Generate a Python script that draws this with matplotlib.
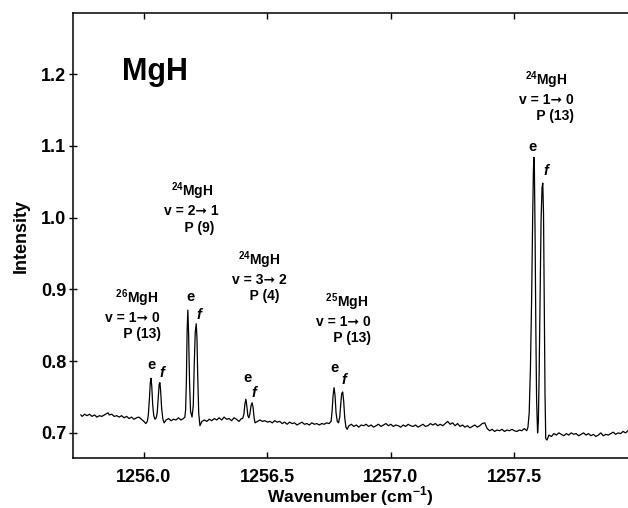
import numpy as np
import matplotlib
matplotlib.use("Agg")
import matplotlib.pyplot as plt
from matplotlib.ticker import FormatStrFormatter

plt.rcParams['font.family'] = ['Liberation Sans', 'DejaVu Sans']
plt.rcParams['mathtext.fontset'] = 'custom'
plt.rcParams['mathtext.rm'] = 'Liberation Sans:bold'
plt.rcParams['mathtext.bf'] = 'Liberation Sans:bold'

# spectrum trace (wavenumber, intensity)
trace = [
    (1255.745, 0.725), (1255.75, 0.723), (1255.76, 0.726), (1255.77, 0.724),
    (1255.78, 0.726), (1255.79, 0.723), (1255.80, 0.725), (1255.81, 0.722),
    (1255.82, 0.724), (1255.83, 0.723), (1255.84, 0.725), (1255.85, 0.727),
    (1255.855, 0.728), (1255.86, 0.725), (1255.87, 0.726), (1255.88, 0.723),
    (1255.89, 0.724), (1255.90, 0.722), (1255.91, 0.724), (1255.92, 0.721),
    (1255.93, 0.723), (1255.94, 0.720), (1255.95, 0.722), (1255.96, 0.719),
    (1255.97, 0.721), (1255.98, 0.722), (1255.99, 0.719), (1256.00, 0.716),
    (1256.008, 0.713), (1256.014, 0.716),
    # 26MgH e / f
    (1256.018, 0.725), (1256.022, 0.745), (1256.026, 0.770), (1256.029, 0.776),
    (1256.032, 0.765), (1256.036, 0.738), (1256.040, 0.724), (1256.045, 0.719),
    (1256.050, 0.721), (1256.054, 0.728), (1256.058, 0.748), (1256.062, 0.768),
    (1256.065, 0.770), (1256.068, 0.758), (1256.072, 0.734), (1256.077, 0.719),
    (1256.082, 0.714), (1256.09, 0.718), (1256.10, 0.720), (1256.11, 0.717),
    (1256.12, 0.719), (1256.13, 0.718), (1256.14, 0.721), (1256.15, 0.718),
    (1256.16, 0.720), (1256.166, 0.722),
    # 24MgH v=2-1 e / f
    (1256.169, 0.732), (1256.172, 0.770), (1256.175, 0.840), (1256.178, 0.871),
    (1256.181, 0.840), (1256.185, 0.770), (1256.189, 0.730), (1256.195, 0.722),
    (1256.200, 0.738), (1256.204, 0.795), (1256.208, 0.840), (1256.212, 0.852),
    (1256.215, 0.832), (1256.218, 0.780), (1256.222, 0.728), (1256.227, 0.710),
    (1256.235, 0.716), (1256.245, 0.718), (1256.255, 0.716), (1256.265, 0.719),
    (1256.275, 0.717), (1256.285, 0.720), (1256.295, 0.718), (1256.305, 0.721),
    (1256.315, 0.718), (1256.325, 0.722), (1256.335, 0.719), (1256.345, 0.720),
    (1256.355, 0.717), (1256.365, 0.721), (1256.375, 0.719), (1256.385, 0.716),
    (1256.395, 0.720),
    # 24MgH v=3-2 e / f
    (1256.400, 0.720), (1256.405, 0.726), (1256.409, 0.740), (1256.413, 0.747),
    (1256.417, 0.737), (1256.421, 0.724), (1256.425, 0.721), (1256.429, 0.726),
    (1256.434, 0.738), (1256.438, 0.742), (1256.442, 0.736), (1256.446, 0.722),
    (1256.450, 0.714),
    (1256.46, 0.716), (1256.47, 0.718), (1256.48, 0.716), (1256.49, 0.717),
    (1256.50, 0.715), (1256.51, 0.716), (1256.52, 0.714), (1256.53, 0.717),
    (1256.54, 0.715), (1256.55, 0.716), (1256.56, 0.713), (1256.57, 0.715),
    (1256.58, 0.712), (1256.59, 0.715), (1256.60, 0.713), (1256.61, 0.714),
    (1256.62, 0.711), (1256.63, 0.713), (1256.64, 0.715), (1256.65, 0.712),
    (1256.66, 0.713), (1256.67, 0.711), (1256.68, 0.714), (1256.69, 0.712),
    (1256.70, 0.713), (1256.71, 0.711), (1256.72, 0.713), (1256.73, 0.712),
    (1256.74, 0.714), (1256.75, 0.713), (1256.758, 0.716),
    # 25MgH e / f
    (1256.762, 0.730), (1256.766, 0.752), (1256.770, 0.763), (1256.774, 0.752),
    (1256.778, 0.728), (1256.783, 0.716), (1256.788, 0.714), (1256.793, 0.722),
    (1256.797, 0.740), (1256.801, 0.755), (1256.805, 0.757), (1256.809, 0.744),
    (1256.813, 0.722), (1256.818, 0.708), (1256.823, 0.705),
    (1256.83, 0.710), (1256.84, 0.712), (1256.85, 0.709), (1256.86, 0.711),
    (1256.87, 0.708), (1256.88, 0.711), (1256.89, 0.710), (1256.90, 0.712),
    (1256.91, 0.709), (1256.92, 0.711), (1256.93, 0.708), (1256.94, 0.710),
    (1256.95, 0.712), (1256.96, 0.709), (1256.97, 0.711), (1256.98, 0.713),
    (1256.99, 0.710), (1257.00, 0.712), (1257.01, 0.709), (1257.02, 0.711),
    (1257.03, 0.710), (1257.04, 0.708), (1257.05, 0.711), (1257.06, 0.709),
    (1257.07, 0.712), (1257.08, 0.710), (1257.09, 0.709), (1257.10, 0.711),
    (1257.11, 0.708), (1257.12, 0.710), (1257.13, 0.712), (1257.14, 0.709),
    (1257.15, 0.710), (1257.16, 0.713), (1257.17, 0.711), (1257.18, 0.713),
    (1257.19, 0.710), (1257.20, 0.712), (1257.21, 0.710), (1257.22, 0.713),
    (1257.23, 0.716), (1257.24, 0.712), (1257.25, 0.714), (1257.26, 0.710),
    (1257.27, 0.713), (1257.28, 0.709), (1257.29, 0.711), (1257.30, 0.708),
    (1257.31, 0.710), (1257.32, 0.707), (1257.33, 0.709), (1257.34, 0.711),
    (1257.35, 0.708), (1257.36, 0.710), (1257.37, 0.713), (1257.38, 0.714),
    (1257.39, 0.706), (1257.40, 0.703), (1257.41, 0.705), (1257.42, 0.702),
    (1257.43, 0.704), (1257.44, 0.703), (1257.45, 0.705), (1257.46, 0.702),
    (1257.47, 0.704), (1257.48, 0.703), (1257.49, 0.705), (1257.50, 0.703),
    (1257.51, 0.702), (1257.52, 0.704), (1257.53, 0.703), (1257.54, 0.706),
    (1257.55, 0.703),
    # 24MgH v=1-0 e / f
    (1257.555, 0.708), (1257.560, 0.728), (1257.565, 0.790), (1257.570, 0.890),
    (1257.574, 1.000), (1257.577, 1.065), (1257.579, 1.084), (1257.581, 1.068),
    (1257.584, 0.970), (1257.587, 0.840), (1257.590, 0.745), (1257.594, 0.700),
    (1257.597, 0.715), (1257.600, 0.775), (1257.604, 0.885), (1257.608, 0.995),
    (1257.612, 1.042), (1257.615, 1.048), (1257.618, 1.005), (1257.621, 0.885),
    (1257.624, 0.755), (1257.627, 0.692), (1257.632, 0.690),
    (1257.64, 0.697), (1257.65, 0.695), (1257.66, 0.699), (1257.67, 0.697),
    (1257.68, 0.700), (1257.69, 0.698), (1257.70, 0.696), (1257.71, 0.699),
    (1257.72, 0.697), (1257.73, 0.700), (1257.74, 0.698), (1257.75, 0.699),
    (1257.76, 0.696), (1257.77, 0.698), (1257.78, 0.700), (1257.79, 0.697),
    (1257.80, 0.699), (1257.81, 0.696), (1257.82, 0.698), (1257.83, 0.695),
    (1257.84, 0.697), (1257.85, 0.700), (1257.86, 0.696), (1257.87, 0.698),
    (1257.88, 0.697), (1257.89, 0.699), (1257.90, 0.701), (1257.91, 0.698),
    (1257.92, 0.700), (1257.93, 0.699), (1257.94, 0.702), (1257.95, 0.700),
    (1257.96, 0.703),
]
wavenumber = [p[0] for p in trace]
intensity = [p[1] for p in trace]

# e / f parity labels
ef_text = ['e', 'f', 'e', 'f', 'e', 'f', 'e', 'f', 'e', 'f']
ef_x = [1256.032, 1256.073, 1256.190, 1256.223, 1256.421, 1256.445,
        1256.773, 1256.810, 1257.575, 1257.628]
ef_y = [0.795, 0.784, 0.889, 0.864, 0.776, 0.755, 0.791, 0.774, 1.098, 1.065]

# band assignment labels (three lines each, centred on the middle line)
band_iso = ['  $^{26}$MgH', '$^{24}$MgH', '$^{24}$MgH', '  $^{25}$MgH', '$^{24}$MgH']
band_v = ['v = 1\u279e 0', 'v = 2\u279e 1', 'v = 3\u279e 2', 'v = 1\u279e 0', 'v = 1\u279e 0']
band_p = ['     P (13)', '    P (9)', '   P (4)', '     P (13)', '     P (13)']
band_x = [1255.955, 1256.194, 1256.466, 1256.806, 1257.628]
band_y = [0.865, 1.014, 0.918, 0.860, 1.169]

fig = plt.figure(figsize=(6.28, 5.08), dpi=100)
ax = fig.add_axes([0.1162, 0.0984, 0.8838, 0.876])

ax.plot(wavenumber, intensity, color='black', lw=0.9)

ax.set_xlim(1255.713, 1257.96)
ax.set_ylim(0.665, 1.285)
ax.set_xticks([1256.0, 1256.5, 1257.0, 1257.5])
ax.set_yticks([0.7, 0.8, 0.9, 1.0, 1.1, 1.2])
ax.xaxis.set_major_formatter(FormatStrFormatter('%.1f'))
ax.yaxis.set_major_formatter(FormatStrFormatter('%.1f'))
ax.tick_params(axis='x', which='both', direction='in', top=True, length=4,
               width=1, labelsize=13, pad=8)
ax.tick_params(axis='y', direction='inout', length=6, width=1,
               labelsize=13, pad=2)
for lab in ax.get_xticklabels() + ax.get_yticklabels():
    lab.set_fontweight('bold')
for s in ['left', 'bottom', 'top']:
    ax.spines[s].set_linewidth(1.1)
ax.spines['right'].set_visible(False)

ax.set_xlabel('Wavenumber (cm$^{\\mathbf{-1}}$)', fontsize=12.5, fontweight='bold',
              labelpad=-1)
ax.set_ylabel('Intensity', fontsize=13, fontweight='bold', labelpad=8)

ax.text(1256.045, 1.192, 'MgH', fontsize=22, fontweight='bold',
        ha='center', va='baseline')

for t, x, y in zip(ef_text, ef_x, ef_y):
    ax.text(x, y, t, fontsize=10.5, fontweight='bold',
            style='italic' if t == 'f' else 'normal', ha='center', va='center')

for iso, v, p, x, y in zip(band_iso, band_v, band_p, band_x, band_y):
    ax.text(x, y, iso + '\n' + v + '\n' + p, fontsize=10, fontweight='bold',
            ha='center', va='center', multialignment='center',
            linespacing=1.2)

fig.savefig('out.png', dpi=100)
